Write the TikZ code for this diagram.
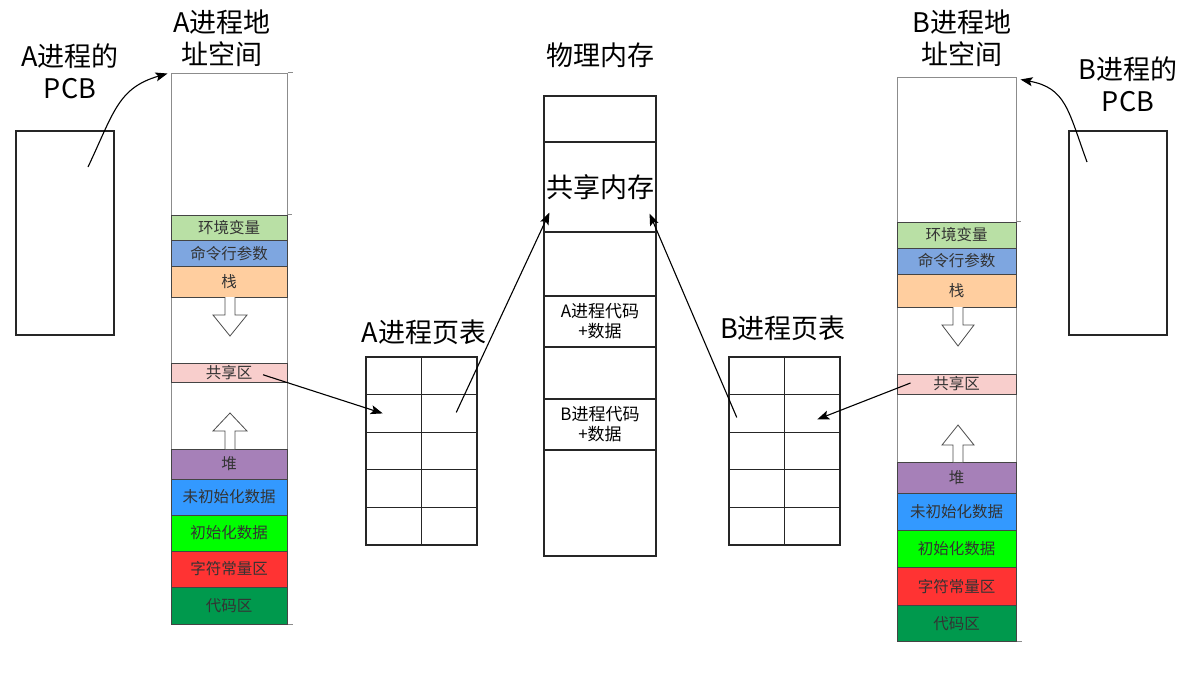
\documentclass[tikz,border=0pt]{standalone}
\usepackage{fontspec}
\newfontfamily\cjk{Noto Sans CJK SC}
\usetikzlibrary{arrows.meta}
\definecolor{cEnv}{HTML}{B9E0A5}
\definecolor{cArg}{HTML}{7EA6E0}
\definecolor{cStack}{HTML}{FFCE9F}
\definecolor{cShm}{HTML}{F8CECC}
\definecolor{cHeap}{HTML}{A680B8}
\definecolor{cBss}{HTML}{3399FF}
\definecolor{cData}{HTML}{00FF00}
\definecolor{cRod}{HTML}{FF3333}
\definecolor{cText}{HTML}{00994D}
\definecolor{cBorder}{HTML}{444444}
\definecolor{cCol}{HTML}{8C8C8C}
\begin{document}
\begin{tikzpicture}[x=1pt,y=-1pt,
  colbox/.style={draw=cCol, line width=1pt, inner sep=0},
  cellA/.style={draw=cBorder, line width=0.8pt, inner sep=0, minimum width=116pt, font=\cjk\fontsize{15.5}{18}\selectfont, text=black!80},
  cellB/.style={cellA, minimum width=119pt},
  big/.style={font=\cjk\fontsize{27}{32}\selectfont, align=center, inner sep=0},
  memseg/.style={draw=black!85, line width=1.1pt, inner sep=0, minimum width=112pt, align=center},
  ptcell/.style={draw=black!85, line width=1.2pt, inner sep=0, minimum width=55.5pt, minimum height=37.6pt},
  pcb/.style={draw=black!85, line width=1.1pt, inner sep=0, minimum width=98pt, minimum height=204pt},
  hollow/.style={draw=black!70, fill=white, line width=0.8pt, line join=miter},
  conn/.style={draw=black, line width=1.1pt, -{Stealth[length=12pt,width=9pt,inset=2.5pt]}},
  tick/.style={draw=cCol, line width=0.8pt}
]
\useasboundingbox (0,0) rectangle (1180,680);

% ---------- A address space ----------
\node[colbox, minimum width=116pt, minimum height=551pt] (colA) at (229,348.5) {};
\node[cellA, fill=cEnv,   minimum height=25pt]   (envA)  at (229,227.5)  {环境变量};
\node[cellA, fill=cArg,   minimum height=26.5pt] (argA)  at (229,253.25) {命令行参数};
\node[cellA, fill=cStack, minimum height=30.5pt] (stkA)  at (229,281.75) {栈};
\node[cellA, fill=cShm,   minimum height=19.5pt] (shmA)  at (229,372.75) {共享区};
\node[cellA, fill=cHeap,  minimum height=30pt]   (heapA) at (229,464)    {堆};
\node[cellA, fill=cBss,   minimum height=36pt]   (bssA)  at (229,497)    {未初始化数据};
\node[cellA, fill=cData,  minimum height=36pt]   (datA)  at (229,533)    {初始化数据};
\node[cellA, fill=cRod,   minimum height=36pt]   (rodA)  at (229,569)    {字符常量区};
\node[cellA, fill=cText,  minimum height=37pt]   (txtA)  at (229,605.5)  {代码区};
\draw[tick] (colA.north east) -- ++(5pt,0);
\draw[tick] (envA.north east) -- ++(5pt,0);
\draw[tick] (colA.south east) -- ++(5pt,0);
% hollow arrows A
\draw[hollow] (225,297) -- (225,315) -- (213,315) -- (230,336) -- (247,315) -- (235,315) -- (235,297);
\draw[hollow] (225,449) -- (225,431) -- (213,431) -- (230,413) -- (247,431) -- (235,431) -- (235,449);

\node[big] (lblColA) at (222,38) {A进程地\\址空间};
\node[pcb] (pcbA) at (65,233) {};
\node[big] (lblPcbA) at (70,71) {A进程的\\PCB};

% ---------- B address space ----------
\node[colbox, minimum width=119pt, minimum height=564pt] (colB) at (956.5,359) {};
\node[cellB, fill=cEnv,   minimum height=26pt]   (envB)  at (956.5,235)    {环境变量};
\node[cellB, fill=cArg,   minimum height=26pt]   (argB)  at (956.5,261)    {命令行参数};
\node[cellB, fill=cStack, minimum height=33pt]   (stkB)  at (956.5,290.5)  {栈};
\node[cellB, fill=cShm,   minimum height=20pt]   (shmB)  at (956.5,384)    {共享区};
\node[cellB, fill=cHeap,  minimum height=31pt]   (heapB) at (956.5,477.5)  {堆};
\node[cellB, fill=cBss,   minimum height=37.5pt] (bssB)  at (956.5,511.75) {未初始化数据};
\node[cellB, fill=cData,  minimum height=37pt]   (datB)  at (956.5,549)    {初始化数据};
\node[cellB, fill=cRod,   minimum height=37.5pt] (rodB)  at (956.5,586.25) {字符常量区};
\node[cellB, fill=cText,  minimum height=36.5pt] (txtB)  at (956.5,623.25) {代码区};
\draw[tick] (envB.north east) -- ++(5pt,0);
\draw[tick] (colB.south east) -- ++(5pt,0);
% hollow arrows B
\draw[hollow] (953,307) -- (953,325) -- (942,325) -- (958,346) -- (974,325) -- (963,325) -- (963,307);
\draw[hollow] (953,462) -- (953,445) -- (942,445) -- (958,425) -- (974,445) -- (963,445) -- (963,462);

\node[big] (lblColB) at (962,38) {B进程地\\址空间};
\node[pcb] (pcbB) at (1118,233) {};
\node[big] (lblPcbB) at (1128,84) {B进程的\\PCB};

% ---------- physical memory ----------
\node[big] (lblMem) at (600,55) {物理内存};
\node[memseg, minimum height=46pt] (memTop) at (600,119) {};
\node[memseg, minimum height=90pt, font=\cjk\fontsize{27}{30}\selectfont] (memShm) at (600,187) {共享内存};
\node[memseg, minimum height=64pt] (memGap1) at (600,264) {};
\node[memseg, minimum height=51pt, font=\cjk\fontsize{17}{20}\selectfont] (memA) at (600,321.5) {A进程代码\\+数据};
\node[memseg, minimum height=52pt] (memGap2) at (600,373) {};
\node[memseg, minimum height=51pt, font=\cjk\fontsize{17}{20}\selectfont] (memB) at (600,424.5) {B进程代码\\+数据};
\node[memseg, minimum height=106pt] (memBot) at (600,503) {};

% ---------- page tables ----------
\node[big] (lblPtA) at (424,332) {A进程页表};
\node[big] (lblPtB) at (783,328) {B进程页表};
\foreach \r in {1,...,5}{
  \foreach \c in {1,2}{
    \node[ptcell] (ptA-\r-\c) at ({366+55.5*(\c-0.5)},{357+37.6*(\r-0.5)}) {};
    \node[ptcell] (ptB-\r-\c) at ({729+55.5*(\c-0.5)},{357+37.6*(\r-0.5)}) {};
  }
}

% ---------- connectors ----------
\draw[conn] ([xshift=23pt,yshift=66pt]pcbA.center) .. controls (114,112) and (118,88) .. ([xshift=-3pt,yshift=-1pt]colA.north west);
\draw[conn] ([xshift=-31pt,yshift=71pt]pcbB.center) .. controls (1068,110) and (1066,88) .. ([xshift=4pt,yshift=-3pt]colB.north east);
\draw[conn] ([xshift=34pt,yshift=-2pt]shmA.center) -- ([xshift=-11pt]ptA-2-1.center);
\draw[conn] ([xshift=7pt,yshift=1pt]ptA-2-2.center) -- ([xshift=6pt,yshift=20pt]memShm.south west);
\draw[conn] ([xshift=-20pt,yshift=-4pt]ptB-2-1.center) -- ([xshift=-7pt,yshift=19pt]memShm.south east);
\draw[conn] ([xshift=-46pt,yshift=1pt]shmB.center) -- ([xshift=5pt,yshift=-6pt]ptB-2-2.center);
\end{tikzpicture}
\end{document}
